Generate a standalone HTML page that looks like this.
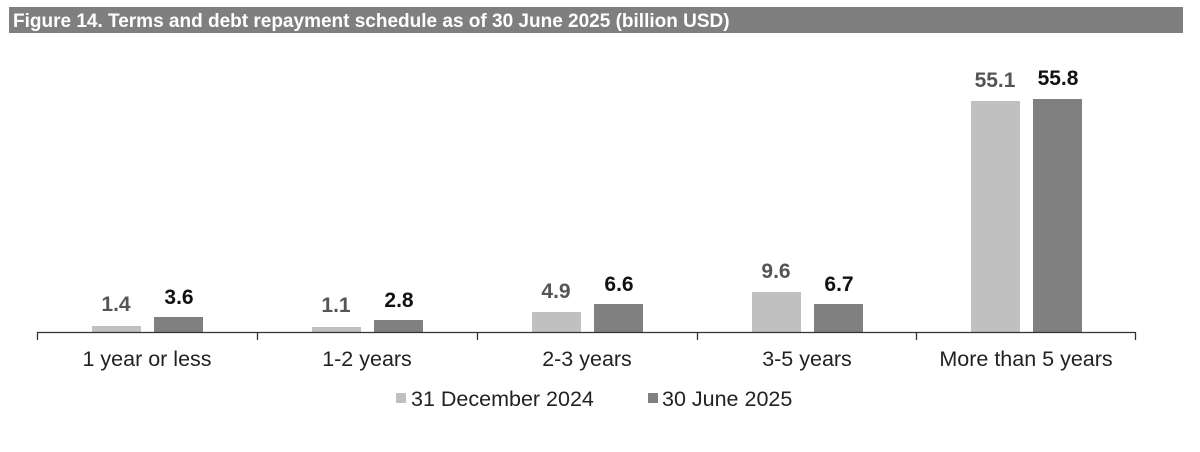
<!DOCTYPE html>
<html><head><meta charset="utf-8"><style>
html,body{margin:0;padding:0;background:#fff;width:1200px;height:452px;overflow:hidden}
svg{display:block;font-family:"Liberation Sans",Arial,sans-serif}
</style></head><body>
<svg width="1200" height="452" viewBox="0 0 1200 452">
<rect x="9" y="7" width="1174" height="26" fill="#7f7f7f"/>
<text x="13" y="27" fill="#fff" font-size="19" font-weight="bold">Figure 14. Terms and debt repayment schedule as of 30 June 2025 (billion USD)</text>
<g fill="#c0c0c0">
<rect x="92" y="326" width="49" height="6"/>
<rect x="312" y="327" width="49" height="5"/>
<rect x="532" y="312" width="49" height="20"/>
<rect x="752" y="292" width="49" height="40"/>
<rect x="971" y="101" width="49" height="231"/>
</g>
<g fill="#808080">
<rect x="154" y="317" width="49" height="15"/>
<rect x="374" y="320" width="49" height="12"/>
<rect x="594" y="304" width="49" height="28"/>
<rect x="814" y="304" width="49" height="28"/>
<rect x="1033" y="99" width="49" height="233"/>
</g>
<g font-size="21" font-weight="bold" text-anchor="middle" fill="#555">
<text x="116" y="311">1.4</text>
<text x="336" y="312">1.1</text>
<text x="556" y="298">4.9</text>
<text x="776" y="278">9.6</text>
<text x="995" y="87">55.1</text>
</g>
<g font-size="21" font-weight="bold" text-anchor="middle" fill="#111">
<text x="179" y="304">3.6</text>
<text x="399" y="307">2.8</text>
<text x="619" y="291">6.6</text>
<text x="839" y="291">6.7</text>
<text x="1058" y="85">55.8</text>
</g>
<g stroke="#333" stroke-width="1.3" fill="none">
<line x1="37" y1="332.5" x2="1135" y2="332.5"/>
<line x1="37.5" y1="332" x2="37.5" y2="340"/>
<line x1="257.5" y1="332" x2="257.5" y2="340"/>
<line x1="477.5" y1="332" x2="477.5" y2="340"/>
<line x1="697.5" y1="332" x2="697.5" y2="340"/>
<line x1="916.5" y1="332" x2="916.5" y2="340"/>
<line x1="1135.5" y1="332" x2="1135.5" y2="340"/>
</g>
<g font-size="21.5" text-anchor="middle" fill="#222">
<text x="147" y="366">1 year or less</text>
<text x="367" y="366">1-2 years</text>
<text x="587" y="366">2-3 years</text>
<text x="807" y="366">3-5 years</text>
<text x="1026" y="366">More than 5 years</text>
</g>
<rect x="396" y="393" width="10" height="10" fill="#c0c0c0"/>
<text x="411" y="406" font-size="21.5" fill="#222">31 December 2024</text>
<rect x="648" y="393" width="10" height="10" fill="#808080"/>
<text x="662" y="406" font-size="21.5" fill="#222">30 June 2025</text>
</svg>
</body></html>
